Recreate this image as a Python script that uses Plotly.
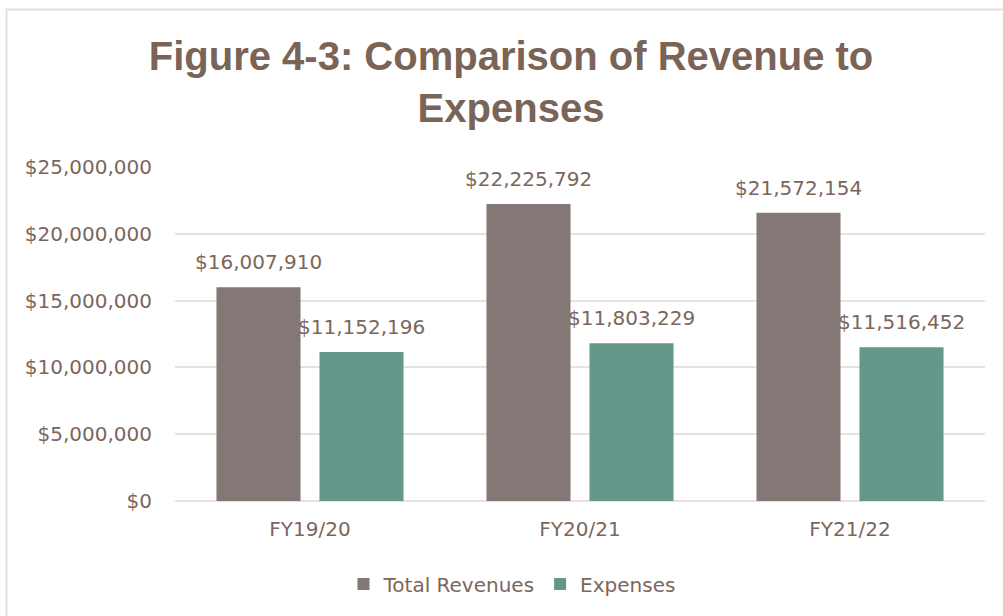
import plotly.graph_objects as go

categories = ["FY19/20", "FY20/21", "FY21/22"]
revenues = [16007910, 22225792, 21572154]
expenses = [11152196, 11803229, 11516452]
series_names = ["Total Revenues", "Expenses"]
y_tickvals = [0, 5000000, 10000000, 15000000, 20000000, 25000000]
y_ticktext = ["$0", "$5,000,000", "$10,000,000", "$15,000,000", "$20,000,000", "$25,000,000"]
title_text = "Figure 4-3: Comparison of Revenue to<br>Expenses"

TXT = "#7b665c"
GRID = "#e8e2df"
FONT = "DejaVu Sans, Liberation Sans, sans-serif"

W, H = 1003, 616
L, R, T, B = 175, 18, 167, 115
pw, ph = W - L - R, H - T - B
BARGAP, GROUPGAP = 0.237, 0.184
slot_px = pw / len(categories) * (1 - BARGAP) / 2

def money(v):
    return "${:,.0f}".format(v)

fig = go.Figure()
fig.add_trace(go.Bar(
    x=categories, y=revenues, name=series_names[0],
    marker=dict(color="#837875", line=dict(width=0)),
))
fig.add_trace(go.Bar(
    x=categories, y=expenses, name=series_names[1],
    marker=dict(color="#65988b", line=dict(width=0)),
))

# data labels
for vals, sgn in ((revenues, -1), (expenses, 1)):
    for c, v in zip(categories, vals):
        fig.add_annotation(x=c, y=v, xref="x", yref="y", text=money(v),
                           showarrow=False, xanchor="center", yanchor="middle",
                           xshift=sgn * slot_px / 2, yshift=25,
                           font=dict(family=FONT, size=20, color=TXT))

# outer chart border (extends beyond the visible page on the right and bottom)
fig.add_shape(type="rect", xref="paper", yref="paper",
              x0=(6.5 - L) / pw, x1=(W + 20 - L) / pw,
              y0=(T + ph - (H + 20)) / ph, y1=(T + ph - 9.5) / ph,
              line=dict(color="#e6e0dd", width=2), layer="below")

fig.update_layout(
    width=W, height=H,
    margin=dict(l=L, r=R, t=T, b=B),
    paper_bgcolor="white", plot_bgcolor="white",
    barmode="group", bargap=BARGAP, bargroupgap=GROUPGAP,
    title=dict(text=title_text, x=511 / W, xanchor="center",
               y=1 - 70 / H, yanchor="top", yref="container",
               font=dict(family="Liberation Sans, Arial, sans-serif", size=40, color="#7a6357", weight="bold")),
    font=dict(family=FONT, size=20, color=TXT),
    showlegend=True,
    legend=dict(orientation="h", xref="container", yref="container",
                x=512 / W, xanchor="center", y=1 - 584 / H, yanchor="middle",
                font=dict(family=FONT, size=20, color=TXT),
                itemwidth=30, traceorder="normal"),
)
fig.update_yaxes(range=[0, 25000000], tickvals=y_tickvals, ticktext=y_ticktext,
                 showgrid=True, gridcolor=GRID, gridwidth=1.5,
                 zeroline=True, zerolinecolor=GRID, zerolinewidth=1.5,
                 showline=False, ticks="", ticklabelstandoff=22,
                 tickfont=dict(family=FONT, size=20, color=TXT))
fig.update_xaxes(showgrid=False, showline=False, ticks="", ticklabelstandoff=14,
                 tickfont=dict(family=FONT, size=20, color=TXT))

fig.write_html("out.html", config={"displayModeBar": False},
               post_script="document.body.style.margin='0px';")
